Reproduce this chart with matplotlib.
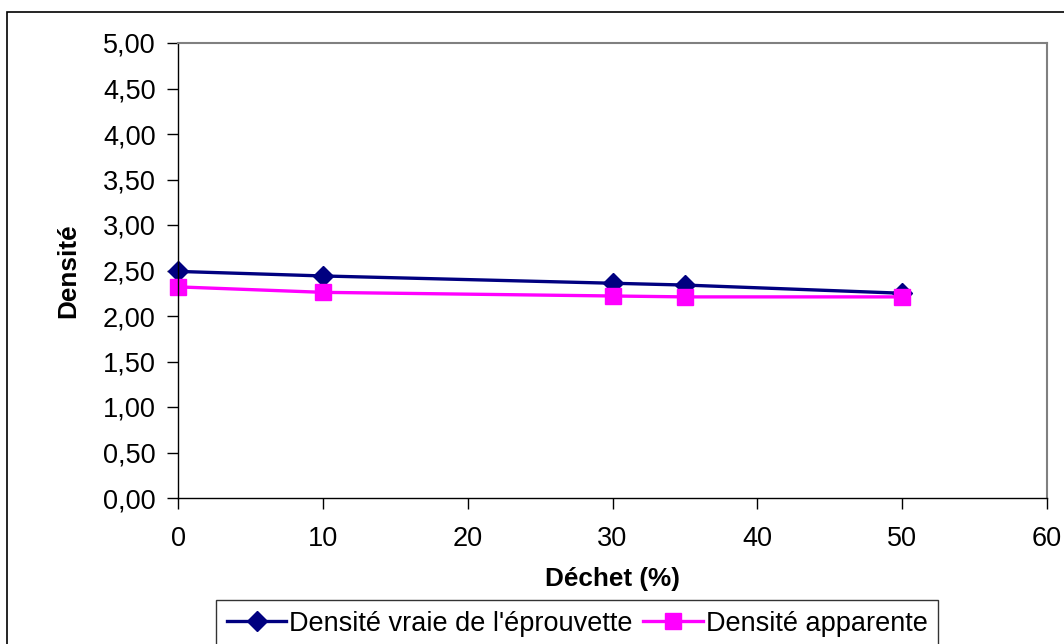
import matplotlib
matplotlib.use("Agg")
import matplotlib.pyplot as plt
from matplotlib.patches import Rectangle
from matplotlib.ticker import FuncFormatter, MultipleLocator

plt.rcParams['font.family'] = ['Liberation Sans', 'DejaVu Sans']

# waste content (%) and measured densities
dechet = [0, 10, 30, 35, 50]
densite_vraie = [2.49, 2.44, 2.36, 2.34, 2.25]
densite_apparente = [2.32, 2.26, 2.22, 2.21, 2.21]

W, H = 1064, 644
fig = plt.figure(figsize=(W / 100, H / 100), dpi=100)

# outer chart frame
fig.patches.append(Rectangle((7 / W, -0.01), 1.2, (H - 12) / H + 0.01,
                             transform=fig.transFigure, fill=False,
                             edgecolor='black', linewidth=1.2))

ax = fig.add_axes([178 / W, 1 - 498 / H, (1047 - 178) / W, (498 - 43) / H])

ax.plot(dechet, densite_vraie, color='#000080', linewidth=2.4,
        marker='D', markersize=10, label="Densité vraie de l'éprouvette", clip_on=False)
ax.plot(dechet, densite_apparente, color='#FF00FF', linewidth=2.4,
        marker='s', markersize=11, label='Densité apparente', clip_on=False)

ax.set_xlim(0, 60)
ax.set_ylim(0, 5)
ax.xaxis.set_major_locator(MultipleLocator(10))
ax.yaxis.set_major_locator(MultipleLocator(0.5))
ax.yaxis.set_major_formatter(FuncFormatter(lambda v, p: f"{v:.2f}".replace('.', ',')))

for side in ['top', 'right']:
    ax.spines[side].set_color('#808080')
    ax.spines[side].set_linewidth(1.5)
for side in ['left', 'bottom']:
    ax.spines[side].set_color('black')
    ax.spines[side].set_linewidth(1.0)

ax.tick_params(axis='both', direction='out', length=8, width=1, labelsize=19.5, colors='black')
ax.tick_params(axis='x', pad=12)
ax.tick_params(axis='y', pad=8)

ax.set_xlabel('Déchet (%)', fontsize=18.8, fontweight='bold', labelpad=11)
ax.set_ylabel('Densité', fontsize=18.8, fontweight='bold', labelpad=16)

leg = ax.legend(loc='upper left', bbox_to_anchor=((216 - 178) / (1047 - 178), -(600 - 498) / (498 - 43)),
                ncol=2, fontsize=19.5, frameon=True, fancybox=False,
                handlelength=2.2, handletextpad=0.1, columnspacing=0.4,
                borderpad=0.4, borderaxespad=0)
leg.get_frame().set_edgecolor('black')
leg.get_frame().set_linewidth(1.0)

fig.savefig('out.png', dpi=100)
